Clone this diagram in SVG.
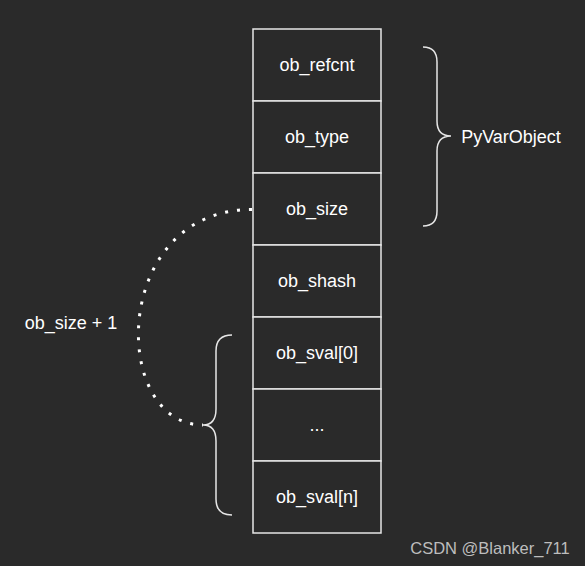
<svg xmlns="http://www.w3.org/2000/svg" width="585" height="566" viewBox="0 0 585 566">
<style>
.box{fill:#2a2a2a;stroke:#e6e6e6;stroke-width:1.5}
.t{font-family:"Liberation Sans",Arial,sans-serif;font-size:18px;fill:#ffffff;text-anchor:middle;dominant-baseline:central}
.brace{fill:none;stroke:#e6e6e6;stroke-width:1.5}
</style>
<rect width="585" height="566" fill="#2a2a2a"/>
<g id="ob_refcnt"><rect class="box" x="253" y="29" width="128" height="72"/><text class="t" x="317" y="65">ob_refcnt</text></g>
<g id="ob_type"><rect class="box" x="253" y="101" width="128" height="72"/><text class="t" x="317" y="137">ob_type</text></g>
<g id="ob_size"><rect class="box" x="253" y="173" width="128" height="72"/><text class="t" x="317" y="209">ob_size</text></g>
<g id="ob_shash"><rect class="box" x="253" y="245" width="128" height="72"/><text class="t" x="317" y="281">ob_shash</text></g>
<g id="ob_sval0"><rect class="box" x="253" y="317" width="128" height="72"/><text class="t" x="317" y="353">ob_sval[0]</text></g>
<g id="ellipsis"><rect class="box" x="253" y="389" width="128" height="72"/><text class="t" x="317" y="425">...</text></g>
<g id="ob_svaln"><rect class="box" x="253" y="461" width="128" height="72"/><text class="t" x="317" y="497">ob_sval[n]</text></g>
<g id="brace_pyvarobject"><path class="brace" d="M423,47 Q437,47 437,62 L437,121 Q437,136 451,136 Q437,136 437,151 L437,211 Q437,226 423,226"/><text class="t" x="511" y="137">PyVarObject</text></g>
<g id="brace_size"><path class="brace" d="M232,335 Q216,335 216,351 L216,409 Q216,425 203,425 Q216,425 216,441 L216,499 Q216,515 232,515"/><text class="t" x="71" y="323">ob_size + 1</text></g>
<g id="connectors"><path d="M252,209.5 C110,209.5 110,425 203,425" fill="none" stroke="#ffffff" stroke-width="3" stroke-dasharray="3 9"/></g>
<text x="490" y="548" font-family="'Liberation Sans',Arial,sans-serif" font-size="16.5" fill="#bdbdbd" text-anchor="middle" dominant-baseline="central">CSDN @Blanker_711</text>
</svg>
